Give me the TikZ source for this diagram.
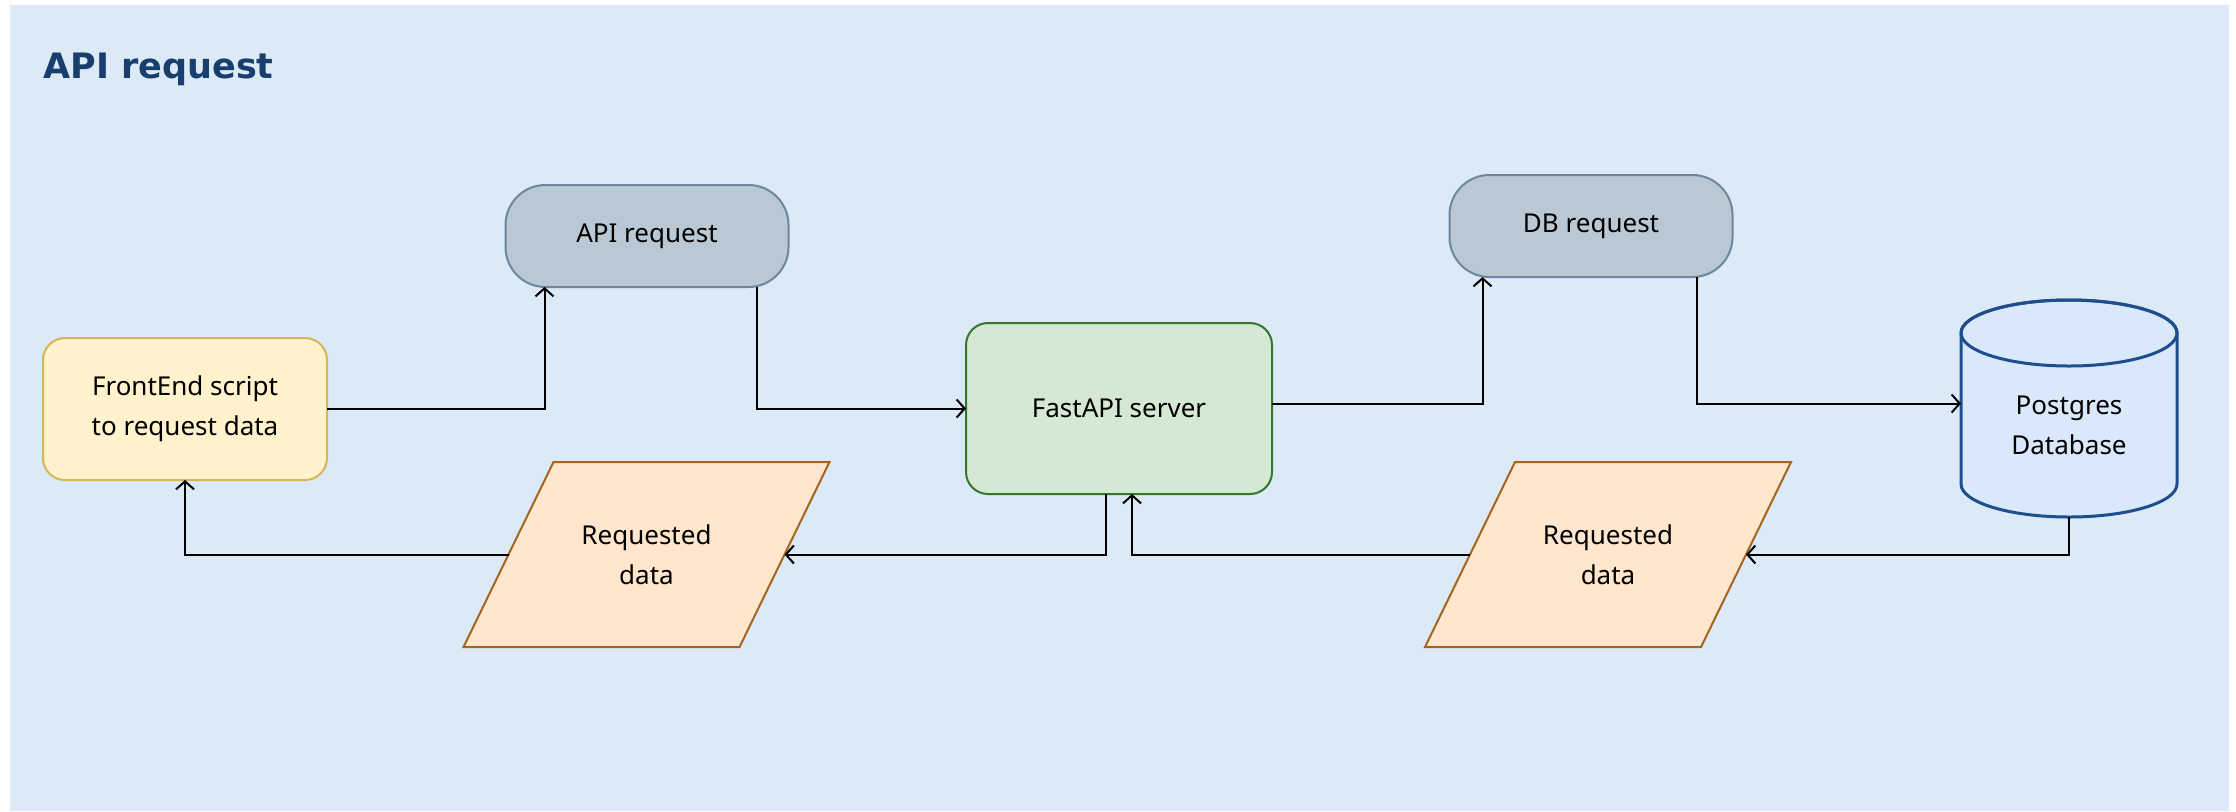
\documentclass[tikz,border=0pt]{standalone}
\usepackage{fontspec}
\setmainfont{Noto Sans}
\newfontfamily\ttlfont{DejaVu Sans}
\usepackage{tikz}
\usetikzlibrary{arrows.meta}
\usetikzlibrary{backgrounds}
\definecolor{bgblue}   {RGB}{220,233,247}
\definecolor{ttlblue}  {RGB}{23,62,108}
\definecolor{fyellow}  {RGB}{255,242,204}
\definecolor{dyellow}  {RGB}{214,182,86}
\definecolor{fgrey}    {RGB}{186,200,211}
\definecolor{dgrey}    {RGB}{110,135,158}
\definecolor{fgreen}   {RGB}{213,232,212}
\definecolor{dgreen}   {RGB}{52,118,44}
\definecolor{forange}  {RGB}{255,230,204}
\definecolor{dorange}  {RGB}{166,101,30}
\definecolor{fdb}      {RGB}{218,232,252}
\definecolor{ddb}      {RGB}{30,78,140}
\tikzset{
    box/.style={line width=1pt, inner sep=0pt, outer sep=0pt, align=center,
             font=\fontsize{13}{20}\selectfont},
    proc/.style={box, draw, rounded corners=11pt},
    front/.style={proc, fill=fyellow, draw=dyellow, minimum width=142pt, minimum height=71pt},
    srv/.style={proc, fill=fgreen, draw=dgreen, minimum width=153pt, minimum height=85.5pt},
    pill/.style={box, draw, rounded corners=20pt, fill=fgrey, draw=dgrey,
             minimum width=141.5pt, minimum height=51pt},
    iobox/.style={box, minimum width=138pt, minimum height=92.5pt},
    dbbox/.style={box, minimum width=108pt, minimum height=92pt},
    iofill/.style={fill=forange, draw=dorange, line width=1pt},
    dbfill/.style={fill=fdb, draw=ddb, line width=1.5pt},
    flow/.style={line width=1pt, -{Straight Barb[length=4pt,width=9pt]}}
  }

\begin{document}
\begin{tikzpicture}[x=0.5pt, y=-0.5pt]
 \useasboundingbox (0,0) rectangle (2236,811);
 %Title
     \node[anchor=base west, text=ttlblue, font=\ttlfont\fontsize{17.5}{22}\selectfont\bfseries,
           inner sep=0pt] (title) at (43,78) {API request};
 %Boxes
     \node[front] (front) at (185,409) {FrontEnd script\\to request data};
     \node[pill] (apireq) at (647,236) {API request};
     \node[srv] (server) at (1119,408.5) {FastAPI server};
     \node[pill] (dbreq) at (1591,226) {DB request};
     \node[iobox] (dataA) at (646.5,554.5) {Requested\\data};
     \node[iobox] (dataB) at (1608,554.5) {Requested\\data};
     \node[dbbox] (db) at (2069,425) {Postgres\\Database};
 %Request path
     \draw[flow] (front.east) -| ([xshift=19.5pt]apireq.south west);
     \draw[flow] ([xshift=-16pt]apireq.south east) |- (server.west);
     \draw[flow] ([yshift=2.5pt]server.east) -| ([xshift=16.5pt]dbreq.south west);
     \draw[flow] ([xshift=-18pt]dbreq.south east) |- ([yshift=2.5pt]db.west |- server.east);
 %Response path
     \draw[flow] (db.south) |- (dataB.east);
     \draw[flow] (dataB.west) -| ([xshift=6.5pt]server.south);
     \draw[flow] ([xshift=-6.5pt]server.south) |- (dataA.east);
     \draw[flow] (dataA.west) -| (front.south);
 %Panel and shapes behind the text
 \begin{scope}[on background layer]
     \fill[bgblue] (10,5) rectangle (2229,811);
     \foreach \d in {dataA,dataB}
         \draw[iofill] ([xshift=22.5pt]\d.north west) -- ([xshift=22.5pt]\d.north east)
             -- ([xshift=-22.5pt]\d.south east) -- ([xshift=-22.5pt]\d.south west) -- cycle;
     \filldraw[dbfill]
         (db.north west) -- ([yshift=16.5pt]db.south west)
         arc[start angle=180, end angle=360, x radius=54pt, y radius=16.5pt]
         -- (db.north east)
         arc[start angle=0, end angle=180, x radius=54pt, y radius=16.5pt] -- cycle;
     \draw[dbfill, fill=none] (db.north) ellipse[x radius=54pt, y radius=16.5pt];
 \end{scope}
\end{tikzpicture}
\end{document}
